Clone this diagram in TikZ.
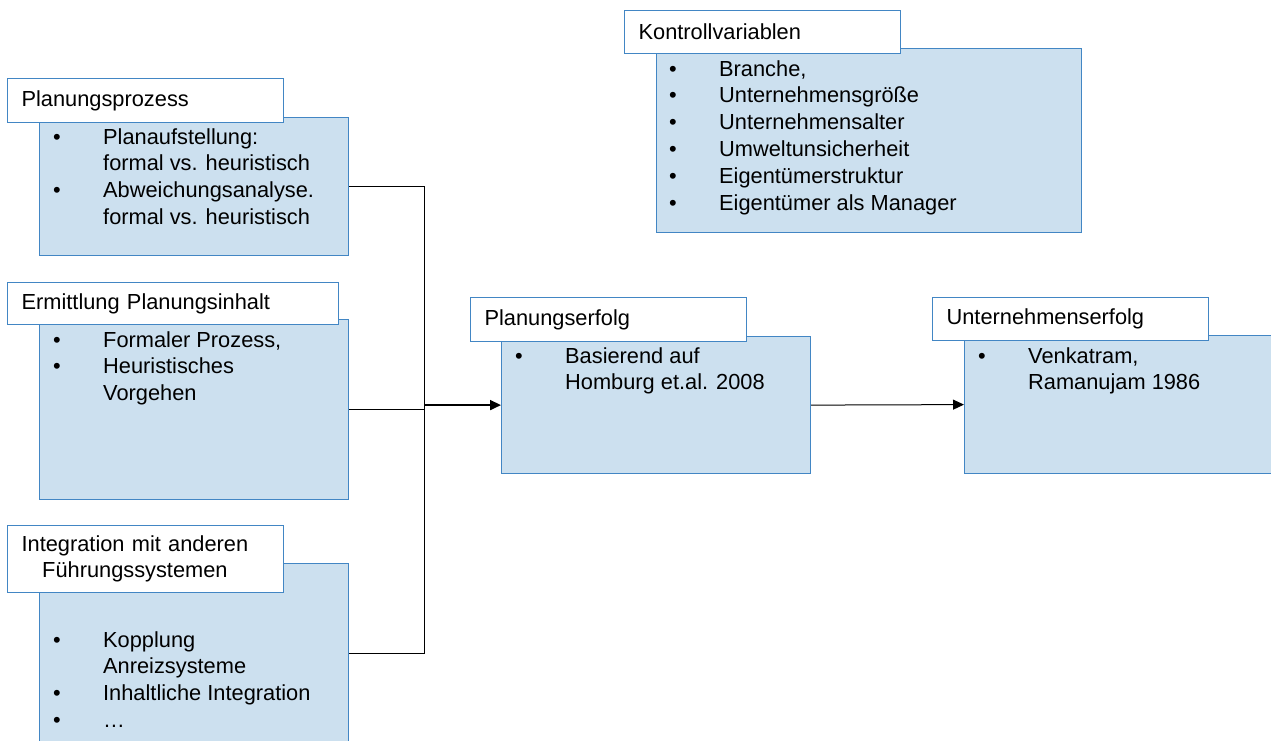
\documentclass[tikz,border=0pt]{standalone}
\usepackage{fontspec}
\setmainfont{Liberation Sans}
\usetikzlibrary{arrows.meta,positioning}
\definecolor{boxfill}{RGB}{204,224,239}
\definecolor{boxline}{RGB}{66,134,196}

\begin{document}
\begin{tikzpicture}[x=1pt,y=-1pt,>={Triangle[length=11pt,width=10pt]},
  font=\fontsize{21.8}{26.8}\selectfont,
  bluebox/.style={draw=boxline,fill=boxfill,line width=1.2pt,anchor=north west,inner sep=0pt},
  titlebox/.style={draw=boxline,fill=white,line width=1.2pt,anchor=north west,
    inner xsep=14pt,inner ysep=0pt,text width=248pt,align=left},
  itemlist/.style={anchor=base west,inner sep=0pt},
  link/.style={line width=1pt}]
\useasboundingbox (0,0) rectangle (1271,740);
% ---------- left column ----------
\node[bluebox,minimum width=309pt,minimum height=138pt] (prozess) at (39,117) {};
\node[itemlist] (prozessitems) at ([shift={(14,27)}]prozess.north west)
  {\begin{tabular}[t]{@{}p{50pt}@{}l@{}}
   \textbullet & Planaufstellung:\\ & formal vs. heuristisch\\
   \textbullet & Abweichungsanalyse.\\ & formal vs. heuristisch
   \end{tabular}};
\node[titlebox,minimum height=44pt] (prozesstitle) at (7,78) {Planungsprozess};

\node[bluebox,minimum width=309pt,minimum height=180pt] (inhalt) at (39,319) {};
\node[itemlist] (inhaltitems) at ([shift={(14,28)}]inhalt.north west)
  {\begin{tabular}[t]{@{}p{50pt}@{}l@{}}
   \textbullet & Formaler Prozess,\\
   \textbullet & Heuristisches\\ & Vorgehen
   \end{tabular}};
\node[titlebox,text width=303pt,minimum height=42pt] (inhalttitle) at (7,282) {Ermittlung Planungsinhalt};

\node[bluebox,minimum width=309pt,minimum height=180pt] (integ) at (39,563) {};
\node[itemlist] (integitems) at ([shift={(14,84)}]integ.north west)
  {\begin{tabular}[t]{@{}p{50pt}@{}l@{}}
   \textbullet & Kopplung\\ & Anreizsysteme\\
   \textbullet & Inhaltliche Integration\\
   \textbullet & \dots
   \end{tabular}};
\node[titlebox,minimum height=67pt] (integtitle) at (7,525)
  {\begin{tabular}{@{}c@{}}Integration mit anderen\\ Führungssystemen\end{tabular}};

% ---------- middle and right ----------
\node[bluebox,minimum width=309pt,minimum height=137pt] (erfolg) at (501,336) {};
\node[itemlist] (erfolgitems) at ([shift={(14,27)}]erfolg.north west)
  {\begin{tabular}[t]{@{}p{50pt}@{}l@{}}
   \textbullet & Basierend auf\\ & Homburg et.al. 2008
   \end{tabular}};
\node[titlebox,minimum height=44pt] (erfolgtitle) at (470,297) {Planungserfolg};

\node[bluebox,minimum width=320pt,minimum height=138pt] (unternehmen) at (964,335) {};
\node[itemlist] (unternehmenitems) at ([shift={(14,28)}]unternehmen.north west)
  {\begin{tabular}[t]{@{}p{50pt}@{}l@{}}
   \textbullet & Venkatram,\\ & Ramanujam 1986
   \end{tabular}};
\node[titlebox,minimum height=43pt] (unternehmentitle) at (932,297) {Unternehmenserfolg};

% control variables
\node[bluebox,minimum width=425pt,minimum height=184pt] (kontroll) at (656,48) {};
\node[itemlist] (kontrollitems) at ([shift={(13,28)}]kontroll.north west)
  {\begin{tabular}[t]{@{}p{50pt}@{}l@{}}
   \textbullet & Branche,\\
   \textbullet & Unternehmensgröße\\
   \textbullet & Unternehmensalter\\
   \textbullet & Umweltunsicherheit\\
   \textbullet & Eigentümerstruktur\\
   \textbullet & Eigentümer als Manager
   \end{tabular}};
\node[titlebox,minimum height=43pt] (kontrolltitle) at (624,10) {Kontrollvariablen};

% ---------- connectors ----------
\coordinate (bus) at (424,405);
\draw[link] (prozess.east) -| (bus);
\draw[link] (integ.east) -| (bus);
\draw[link] (inhalt.east) -- (inhalt.east -| bus);
\draw[->,line width=1.8pt] (bus) -- (erfolg.west);
\draw[->,link] (erfolg.east) -- (unternehmen.west);
\end{tikzpicture}
\end{document}
